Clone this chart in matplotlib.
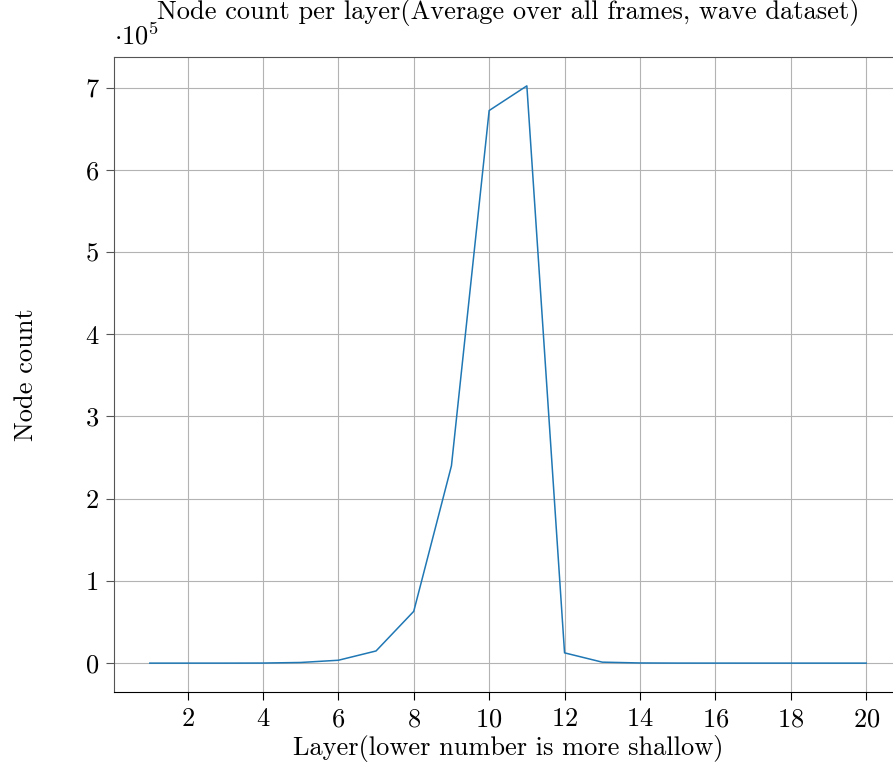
import matplotlib
matplotlib.use("Agg")
import matplotlib.pyplot as plt
from matplotlib.ticker import FuncFormatter

plt.rcParams['font.family'] = ['cmr10', 'DejaVu Serif']
plt.rcParams['mathtext.fontset'] = 'cm'
plt.rcParams['axes.formatter.use_mathtext'] = True

# data: average node count per layer
layers = list(range(1, 21))
node_count = [0, 0, 10, 100, 800, 3500, 14800, 63000, 240000, 672000,
              702000, 12500, 1200, 200, 50, 20, 10, 5, 2, 1]

fig = plt.figure(figsize=(8.93, 7.71), dpi=100)
ax = fig.add_axes([114 / 893, 1 - 692 / 771, 788 / 893, 635 / 771])

ax.plot(layers, node_count, color='#1f77b4', linewidth=1.1)

ax.set_xticks(range(2, 21, 2))
ax.set_yticks([i * 1e5 for i in range(0, 8)])
ax.yaxis.set_major_formatter(FuncFormatter(lambda v, p: '%d' % round(v / 1e5)))
ax.grid(True, color='#b3b3b3', linewidth=0.8)
ax.set_axisbelow(True)

ax.tick_params(axis='both', labelsize=19, length=6, width=0.8)
ax.tick_params(axis='y', colors='#555555', labelcolor='black', pad=5)
ax.tick_params(axis='x', pad=5)
ax.spines['left'].set_color('#555555')
ax.spines['top'].set_color('#555555')

ax.set_xlabel('Layer(lower number is more shallow)', fontsize=19, labelpad=3)
ax.set_ylabel('Node count', fontsize=19, labelpad=34)
ax.set_title('Node count per layer(Average over all frames, wave dataset)',
             fontsize=19, pad=27)
ax.text(0.0, 1.012, r'$\cdot 10^5$', transform=ax.transAxes, fontsize=19,
        ha='left', va='bottom')

fig.savefig('out.png', dpi=100)
